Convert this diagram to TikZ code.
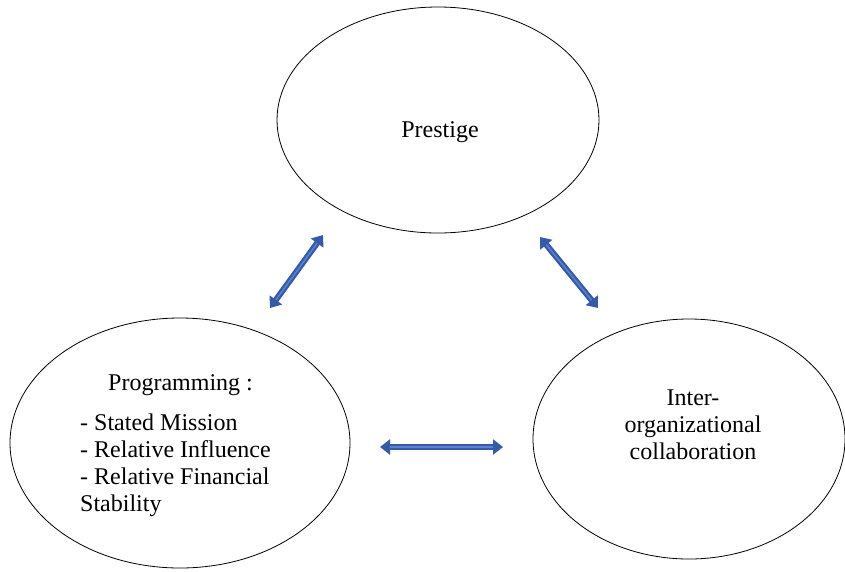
\documentclass[tikz,border=0pt]{standalone}
\usepackage{fontspec}
\setmainfont{Liberation Serif}
\newfontfamily\timesfont{Liberation Serif}
\usetikzlibrary{arrows.meta}
\usetikzlibrary{positioning}
\usetikzlibrary{shapes.geometric}
\definecolor{arrowblue}{RGB}{52,90,168}
\definecolor{shineblue}{RGB}{92,130,205}

\begin{document}
\begin{tikzpicture}
	[x=1pt,y=-1pt,every node/.style={inner sep=0pt,font=\timesfont\fontsize{24}{27}\selectfont},
	oval/.style={ellipse,draw,line width=0.8pt},
	link/.style={arrowblue,line width=6pt,{Triangle[width=15pt,length=10pt]}-{Triangle[width=15pt,length=10pt]}},
	shine/.style={shineblue,line width=1.5pt,shorten <=10pt,shorten >=10pt}]
	\useasboundingbox (0,0) rectangle (845,571);
	\node[oval,minimum width=322pt,minimum height=226pt] (prestige) at (438,120) {};
	\node[oval,minimum width=340pt,minimum height=250pt] (prog) at (180,443) {};
	\node[oval,minimum width=312pt,minimum height=240pt] (collab) at (689,439) {};
	
	\node[anchor=base] (prestigetxt) at (440,137) {Prestige};
	\node[anchor=base west] (progtxt) at (108,390) {Programming :};
	\foreach \item [count=\i] in {- Stated Mission,- Relative Influence,- Relative Financial,Stability}
	\node[anchor=base west] (item\i) at (80,{430+27.3*(\i-1)}) {\item};
	\foreach \word [count=\i] in {Inter-,organizational,collaboration}
	\node[anchor=base] (word\i) at (693,{405+27*(\i-1)}) {\word};
	
	\coordinate (a1) at (270,308);
	\coordinate (b1) at (323,235);
	\coordinate (a2) at (540,237);
	\coordinate (b2) at (598,308);
	\coordinate (a3) at (380,447);
	\coordinate (b3) at (503,447);
	\foreach \from/\to in {a1/b1, a2/b2, a3/b3}
	{\draw[link] (\from) -- (\to);
	\draw[shine] (\from) -- (\to);}
\end{tikzpicture}
\end{document}
